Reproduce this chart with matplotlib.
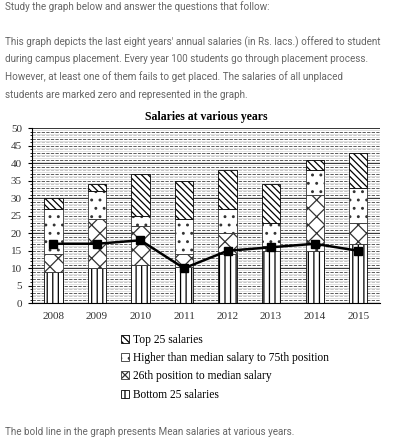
import numpy as np
import matplotlib
matplotlib.use('Agg')
import matplotlib.pyplot as plt

# salaries in Rs. lacs, segment heights of each stacked bar
years = ['2008', '2009', '2010', '2011', '2012', '2013', '2014', '2015']
bottom25 = [9, 10, 11, 10.5, 14, 15, 15, 17]
to_median = [5, 14, 11, 3.5, 6, 1.5, 16, 6]
to_75th = [13, 8, 3, 10, 7, 6.5, 7, 10]
top25 = [3, 2, 12, 11, 11, 11, 3, 10]
mean_sal = [17, 17, 18, 10, 15, 16, 17, 15]

legend_labels = ['Top 25 salaries',
                 'Higher than median salary to 75th position',
                 '26th position to median salary',
                 'Bottom 25 salaries']

plt.rcParams['hatch.linewidth'] = 0.9
serif = 'Liberation Serif'

fig = plt.figure(figsize=(3.95, 4.44), dpi=100)

# question text
txt_col = '#666666'
fs_txt = 7.1
fig.text(0.013, 1 - 7/444, 'Study the graph below and answer the questions that follow:',
         fontsize=fs_txt, family='Roboto', color=txt_col, va='center')
para = ["This graph depicts the last eight years' annual salaries (in Rs. lacs.) offered to student",
        "during campus placement. Every year 100 students go through placement process.",
        "However, at least one of them fails to get placed. The salaries of all unplaced",
        "students are marked zero and represented in the graph."]
for i, line in enumerate(para):
    fig.text(0.013, 1 - (42 + i*17.5)/444, line, fontsize=fs_txt, family='Roboto',
             color=txt_col, va='center')
fig.text(0.013, 1 - 432/444, 'The bold line in the graph presents Mean salaries at various years.',
         fontsize=fs_txt, family='Roboto', color=txt_col, va='center')

ax = fig.add_axes([0.080, 0.317, 0.882, 0.394])
x = np.arange(len(years))

# background of dense dashed lines
for v in range(1, 51):
    if v % 10 == 0:
        ax.axhline(v, color='#333333', lw=0.7, zorder=0)
    else:
        col = '#444444' if v % 2 else '#bbbbbb'
        ax.axhline(v, color=col, lw=0.6, ls=(0, (4, 1.5)), zorder=0)
    ax.axhline(v - 0.5, color='#d8d8d8', lw=0.6, zorder=0)

w = 0.42
b1 = np.array(bottom25, dtype=float)
b2 = b1 + np.array(to_median)
b3 = b2 + np.array(to_75th)
h_bot = ax.bar(x, bottom25, w, color='white', edgecolor='black', lw=0.6, hatch='|||', zorder=2)
h_med = ax.bar(x, to_median, w, bottom=b1, color='white', edgecolor='#333333', lw=0.6, hatch='xx', zorder=2)
h_75 = ax.bar(x, to_75th, w, bottom=b2, color='white', edgecolor='#333333', lw=0.6, hatch='..', zorder=2)
h_top = ax.bar(x, top25, w, bottom=b3, color='white', edgecolor='black', lw=0.6,
               hatch='\\\\\\\\\\', zorder=2)

ax.plot(x, mean_sal, color='black', lw=1.8, marker='s', ms=6, zorder=3)

ax.set_xlim(-0.5, 7.5)
ax.set_ylim(0, 50)
ax.set_yticks(range(0, 51, 5))
ax.set_yticks(range(0, 51), minor=True)
ax.set_xticks(x)
ax.set_xticklabels(years)
for lab in ax.get_xticklabels() + ax.get_yticklabels():
    lab.set_family(serif)
    lab.set_fontsize(8)
    lab.set_color('#333333')
ax.tick_params(axis='x', length=0, pad=6)
ax.tick_params(axis='y', length=3, pad=4)
ax.tick_params(axis='y', which='minor', length=1.5)
ax.spines['top'].set_visible(False)
ax.spines['right'].set_visible(False)
ax.set_title('Salaries at various years', family=serif, fontsize=8.5, fontweight='bold', pad=6)

fig.legend([h_top, h_75, h_med, h_bot], legend_labels, loc='upper left',
           bbox_to_anchor=(0.295, 1 - 329/444), frameon=False,
           prop={'family': serif, 'size': 8.3}, handlelength=0.7, handleheight=0.7,
           handletextpad=0.3, labelspacing=0.55, borderaxespad=0)

fig.savefig('out.png', dpi=100)
